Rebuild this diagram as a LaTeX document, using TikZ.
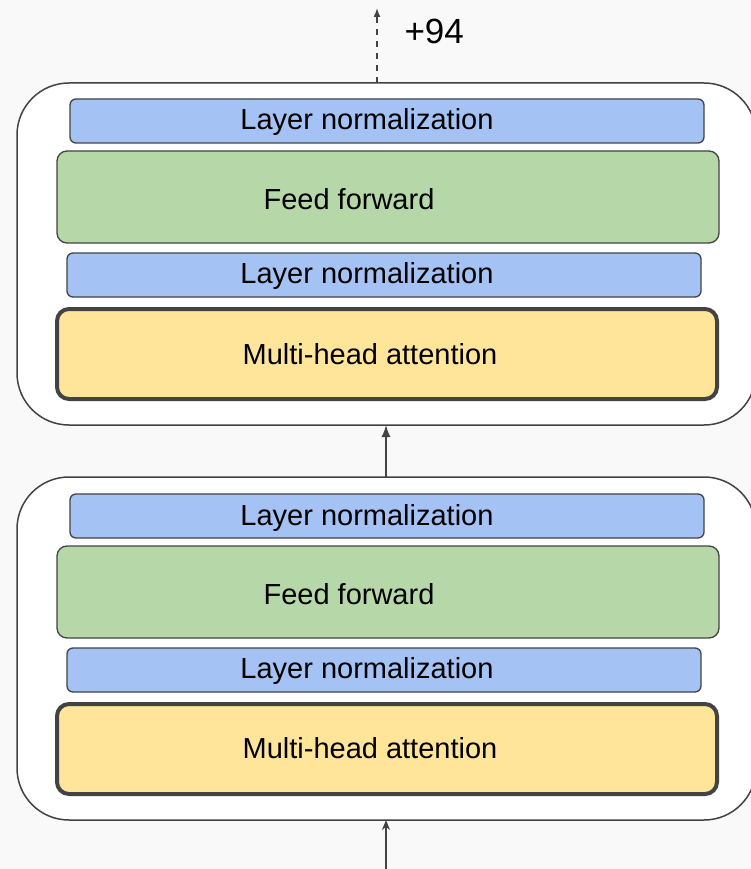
\documentclass[tikz,border=0pt]{standalone}
\usepackage{fontspec}
\setmainfont{Liberation Sans}
\usetikzlibrary{arrows.meta}
\definecolor{bgc}{HTML}{F9F9F9}
\definecolor{edge}{HTML}{434343}
\definecolor{normc}{HTML}{A4C2F4}
\definecolor{ffc}{HTML}{B6D7A8}
\definecolor{attc}{HTML}{FFE599}
\tikzset{
  blockbox/.style={draw=edge, line width=1.5pt, fill=white, rounded corners=52pt},
  normbox/.style={draw=edge, line width=1.3pt, fill=normc, rounded corners=6pt},
  ffbox/.style={draw=edge, line width=1.3pt, fill=ffc, rounded corners=10pt},
  attbox/.style={draw=edge, line width=4pt, fill=attc, rounded corners=12pt},
  lbl/.style={font=\fontsize{29}{32}\selectfont, text=black},
  flow/.style={draw=edge, line width=1.5pt},
}
\begin{document}
\begin{tikzpicture}[x=1pt, y=-1pt]
  \fill[bgc] (0,0) rectangle (751,869);
  \useasboundingbox (0,0) rectangle (751,869);
  \clip (0,0) rectangle (751,869);

  % upper block
  \draw[blockbox] (17,83) rectangle (756,425);
  \coordinate (btop) at (377,83);
  \coordinate (bbot) at (386,425);
  \draw[normbox] (70,99) rectangle (704,143);
  \draw[ffbox] (57,151) rectangle (719,243);
  \draw[normbox] (67,253) rectangle (701,297);
  \draw[attbox] (57,309) rectangle (717,399);
  \node[lbl] (n1) at (367,122) {Layer normalization};
  \node[lbl] (f1) at (349,199) {Feed forward};
  \node[lbl] (n2) at (367,276) {Layer normalization};
  \node[lbl] (a1) at (370,354) {Multi-head attention};

  % lower block
  \draw[blockbox] (17,477) rectangle (756,820);
  \coordinate (ctop) at (386,477);
  \coordinate (cbot) at (386,820);
  \draw[normbox] (70,494) rectangle (704,538);
  \draw[ffbox] (57,546) rectangle (719,638);
  \draw[normbox] (67,648) rectangle (701,692);
  \draw[attbox] (57,704) rectangle (717,794);
  \node[lbl] (n3) at (367,518) {Layer normalization};
  \node[lbl] (f2) at (349,594) {Feed forward};
  \node[lbl] (n4) at (367,671) {Layer normalization};
  \node[lbl] (a2) at (370,748) {Multi-head attention};

  % connectors
  \coordinate (out) at (377,8);
  \coordinate (in) at (386,869);
  \draw[flow, dash pattern=on 6pt off 6pt, -{Latex[length=9pt,width=7pt]}] (btop) -- (out);
  \draw[flow, -{Latex[length=12pt,width=9pt]}] (ctop) -- (bbot);
  \draw[flow, -{Stealth[length=10pt,width=8pt]}] (in) -- (cbot);
  \node[font=\fontsize{35}{38}\selectfont, anchor=west] (cnt) at (401,31) {+94};
\end{tikzpicture}
\end{document}
